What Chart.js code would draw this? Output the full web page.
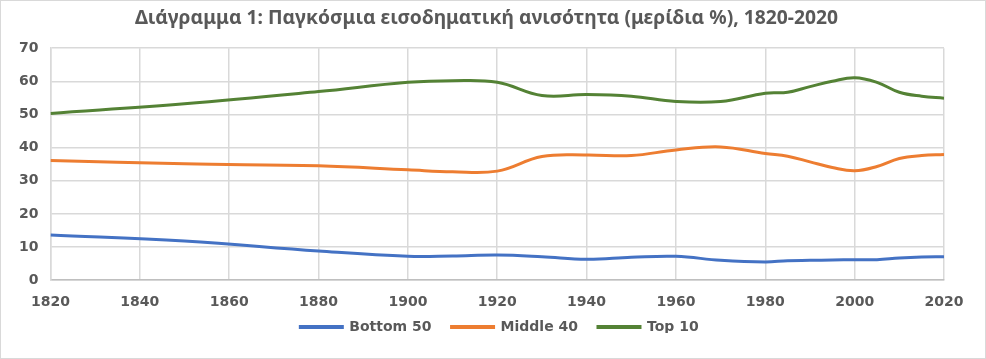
<!DOCTYPE html>
<html>
<head>
<meta charset="utf-8">
<script src="https://cdn.jsdelivr.net/npm/chart.js@4.4.1/dist/chart.umd.min.js"></script>
<style>
  html, body { margin: 0; padding: 0; background: #fff; }
  #wrap { width: 984px; height: 357px; border: 1px solid #d9d9d9; }
</style>
</head>
<body>
<div id="wrap"><canvas id="grafico" width="984" height="357"></canvas></div>
<script>
const years = [1820, 1850, 1880, 1900, 1910, 1920, 1930, 1940, 1950, 1960, 1970, 1980, 1985, 1990, 1995, 2000, 2005, 2010, 2015, 2020];
const bottom50 = [13.6, 11.8, 8.8, 7.2, 7.3, 7.6, 7.1, 6.3, 6.9, 7.2, 6.0, 5.5, 5.9, 6.0, 6.1, 6.2, 6.2, 6.7, 7.0, 7.1];
const middle40 = [36.1, 35.1, 34.5, 33.3, 32.7, 32.9, 37.3, 37.8, 37.6, 39.3, 40.2, 38.2, 37.4, 35.7, 34.0, 33.0, 34.3, 36.7, 37.6, 37.9];
const top10 = [50.3, 53.2, 56.9, 59.7, 60.2, 59.7, 55.7, 56.0, 55.5, 53.9, 53.9, 56.4, 56.7, 58.4, 60.0, 61.1, 59.7, 56.7, 55.5, 54.9];
const yearTicks = [1820, 1840, 1860, 1880, 1900, 1920, 1940, 1960, 1980, 2000, 2020];

const toPoints = (vals) => years.map((y, i) => ({ x: y, y: vals[i] }));

const ctx = document.getElementById('grafico').getContext('2d');
const font = { family: 'DejaVu Sans', size: 14, weight: 'bold' };

// nudge legend and title to where Excel puts them
const nudge = {
  id: 'nudge',
  afterLayout(chart) {
    const lg = chart.legend;
    lg.top -= 25; lg.bottom -= 25;
    lg.left += 24; lg.right += 24;
    chart.titleBlock.left += 11; chart.titleBlock.right += 11;
  }
};

new Chart(ctx, {
  type: 'line',
  data: {
    datasets: [{
      label: 'Bottom 50',
      data: toPoints(bottom50),
      borderColor: '#4472C4',
      backgroundColor: '#4472C4',
      borderWidth: 3
    }, {
      label: 'Middle 40',
      data: toPoints(middle40),
      borderColor: '#ED7D31',
      backgroundColor: '#ED7D31',
      borderWidth: 3
    }, {
      label: 'Top 10',
      data: toPoints(top10),
      borderColor: '#548235',
      backgroundColor: '#548235',
      borderWidth: 3
    }]
  },
  options: {
    responsive: false,
    animation: false,
    elements: { point: { radius: 0 }, line: { tension: 0.4 } },
    layout: { padding: { left: 6, right: 41, top: 4, bottom: 0 } },
    plugins: {
      title: {
        display: true,
        text: 'Διάγραμμα 1: Παγκόσμια εισοδηματική ανισότητα (μερίδια %), 1820-2020',
        color: '#595959',
        font: { family: 'Noto Sans', size: 19.3, weight: 'bold' },
        padding: { top: 2, bottom: 18 }
      },
      legend: {
        position: 'bottom',
        maxHeight: 33,
        labels: {
          color: '#595959',
          font: font,
          boxWidth: 42,
          boxHeight: 1,
          padding: 20
        }
      },
      tooltip: { enabled: false }
    },
    scales: {
      x: {
        type: 'linear',
        min: 1820,
        max: 2020,
        afterBuildTicks: (axis) => { axis.ticks = yearTicks.map(v => ({ value: v })); },
        ticks: { color: '#595959', font: font, padding: 14, callback: (v) => String(v), maxRotation: 0 },
        grid: { color: '#d9d9d9', lineWidth: 1.5, drawTicks: false },
        border: { color: '#bfbfbf', width: 1.5 }
      },
      y: {
        min: 0,
        max: 70,
        ticks: { stepSize: 10, color: '#595959', font: font, padding: 12 },
        grid: { color: '#d9d9d9', lineWidth: 1.5, drawTicks: false },
        border: { color: '#d9d9d9', width: 1.5 }
      }
    }
  },
  plugins: [nudge]
});
</script>
</body>
</html>
